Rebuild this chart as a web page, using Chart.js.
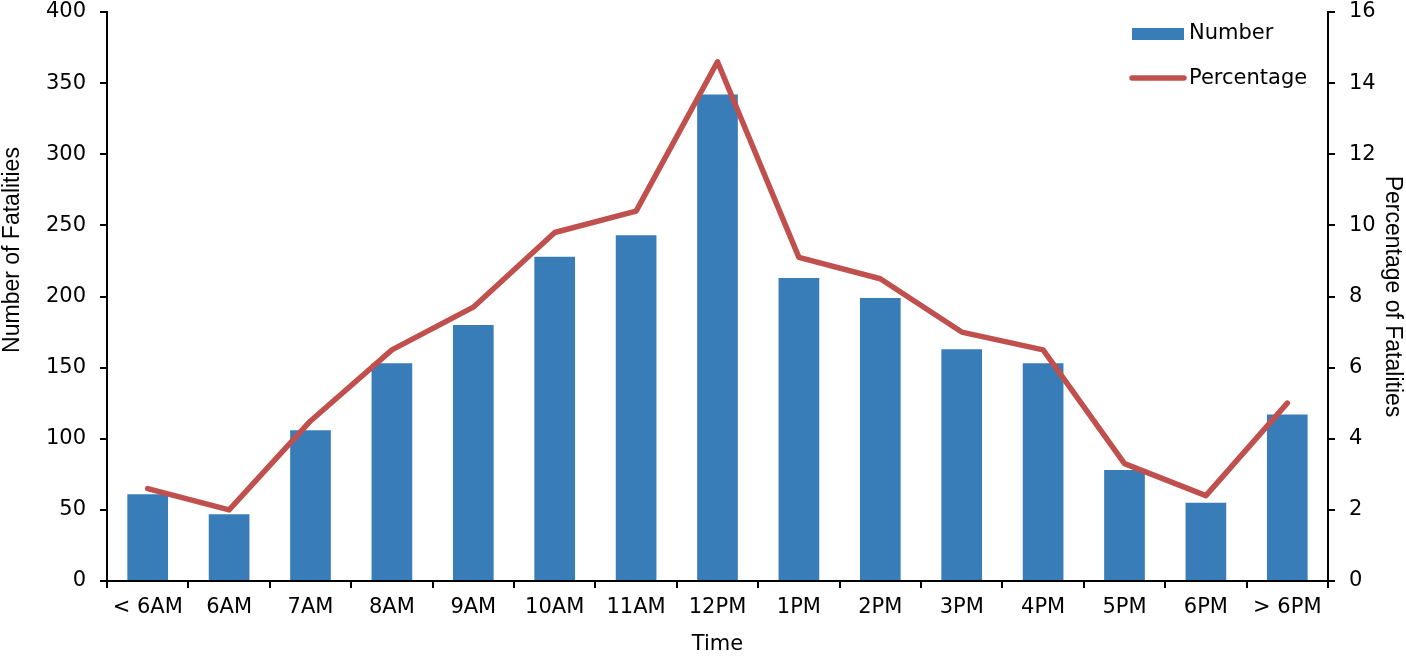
<!DOCTYPE html>
<html>
<head>
<meta charset="utf-8">
<script src="https://cdn.jsdelivr.net/npm/chart.js@4"></script>
<style>
html, body { margin: 0; padding: 0; background: #fff; }
canvas { display: block; }
</style>
</head>
<body>
<canvas id="chart" width="1406" height="657"></canvas>
<script>
// hour of day buckets
const hours = ["< 6AM", "6AM", "7AM", "8AM", "9AM", "10AM", "11AM", "12PM", "1PM", "2PM", "3PM", "4PM", "5PM", "6PM", "> 6PM"]
// number of fatalities per bucket
const fatalities = [61, 47, 106, 153, 180, 228, 243, 342, 213, 199, 163, 153, 78, 55, 117]
// share of all fatalities, %
const percentages = [2.6, 2.0, 4.5, 6.5, 7.7, 9.8, 10.4, 14.6, 9.1, 8.5, 7.0, 6.5, 3.3, 2.4, 5.0]

const left_ticks = [0, 50, 100, 150, 200, 250, 300, 350, 400]
const right_ticks = [0, 2, 4, 6, 8, 10, 12, 14, 16]

const BLUE = "#397db8"
const RED = "#c0504d"
const tickFont = { family: "DejaVu Sans", size: 21 }
const titleFont = { family: "Liberation Sans", size: 23 }

// legend drawn inside the plot, top right
const legendBox = {
    id: "legendBox",
    afterDraw(chart) {
        const ctx = chart.ctx
        const x = chart.chartArea.right - 198
        const y = chart.chartArea.top
        ctx.save()
        ctx.fillStyle = BLUE
        ctx.fillRect(x + 2, y + 16, 52, 12)
        ctx.strokeStyle = RED
        ctx.lineWidth = 5.5
        ctx.lineCap = "round"
        ctx.beginPath()
        ctx.moveTo(x + 2, y + 66)
        ctx.lineTo(x + 54, y + 66)
        ctx.stroke()
        ctx.fillStyle = "#000"
        ctx.font = "21px 'DejaVu Sans'"
        ctx.textBaseline = "middle"
        ctx.fillText(chart.data.datasets[0].label, x + 59, y + 22)
        ctx.fillText(chart.data.datasets[1].label, x + 59, y + 67)
        ctx.restore()
    }
}

// left title sits a bit above the middle of the axis
const leftTitle = {
    id: "leftTitle",
    afterDraw(chart) {
        const ctx = chart.ctx
        ctx.save()
        ctx.translate(13, 250)
        ctx.rotate(-Math.PI / 2)
        ctx.fillStyle = "#000"
        ctx.font = "23px 'Liberation Sans'"
        ctx.textAlign = "center"
        ctx.textBaseline = "middle"
        ctx.fillText("Number of Fatalities", 0, 0)
        ctx.restore()
    }
}

const axisGrid = {
    drawOnChartArea: false,
    drawTicks: true,
    tickLength: 7,
    color: "#000",
    lineWidth: 2
}

// fixed box sizes so the plot area lands where it should
const fitVertical = (w) => (s) => {
    s.width = w
    s.paddingTop = 0
    s.paddingBottom = 0
}

new Chart(document.getElementById("chart").getContext("2d"), {
    type: "bar",
    data: {
        labels: hours,
        datasets: [{
            label: "Number",
            data: fatalities,
            backgroundColor: BLUE,
            barPercentage: 0.5,
            categoryPercentage: 1,
            yAxisID: "y",
            order: 1
        }, {
            type: "line",
            label: "Percentage",
            data: percentages,
            borderColor: RED,
            borderWidth: 5.5,
            borderCapStyle: "round",
            borderJoinStyle: "round",
            pointRadius: 0,
            tension: 0,
            yAxisID: "y1",
            order: 0
        }]
    },
    options: {
        responsive: false,
        animation: false,
        layout: { padding: { top: 12, left: 0, right: 0, bottom: 0 } },
        plugins: {
            legend: { display: false },
            tooltip: { enabled: false }
        },
        scales: {
            x: {
                grid: { ...axisGrid, offset: true },
                border: { color: "#000", width: 2 },
                ticks: { font: tickFont, color: "#000", padding: 7, maxRotation: 0 },
                title: { display: true, text: "Time", font: { family: "DejaVu Sans", size: 21 }, color: "#000", padding: { top: 4, bottom: 0 } },
                afterFit: (s) => { s.height = 76; s.paddingLeft = 0; s.paddingRight = 0 }
            },
            y: {
                position: "left",
                min: 0,
                max: 400,
                grid: axisGrid,
                border: { color: "#000", width: 2 },
                afterBuildTicks: (s) => { s.ticks = left_ticks.map(v => ({ value: v })) },
                ticks: { font: tickFont, color: "#000", padding: 14 },
                afterFit: fitVertical(107)
            },
            y1: {
                position: "right",
                min: 0,
                max: 16,
                grid: axisGrid,
                border: { color: "#000", width: 2 },
                afterBuildTicks: (s) => { s.ticks = right_ticks.map(v => ({ value: v })) },
                ticks: { font: tickFont, color: "#000", padding: 14 },
                title: { display: true, text: "Percentage of Fatalities", font: titleFont, color: "#000", padding: 0 },
                afterFit: fitVertical(78)
            }
        }
    },
    plugins: [legendBox, leftTitle]
})
</script>
</body>
</html>
